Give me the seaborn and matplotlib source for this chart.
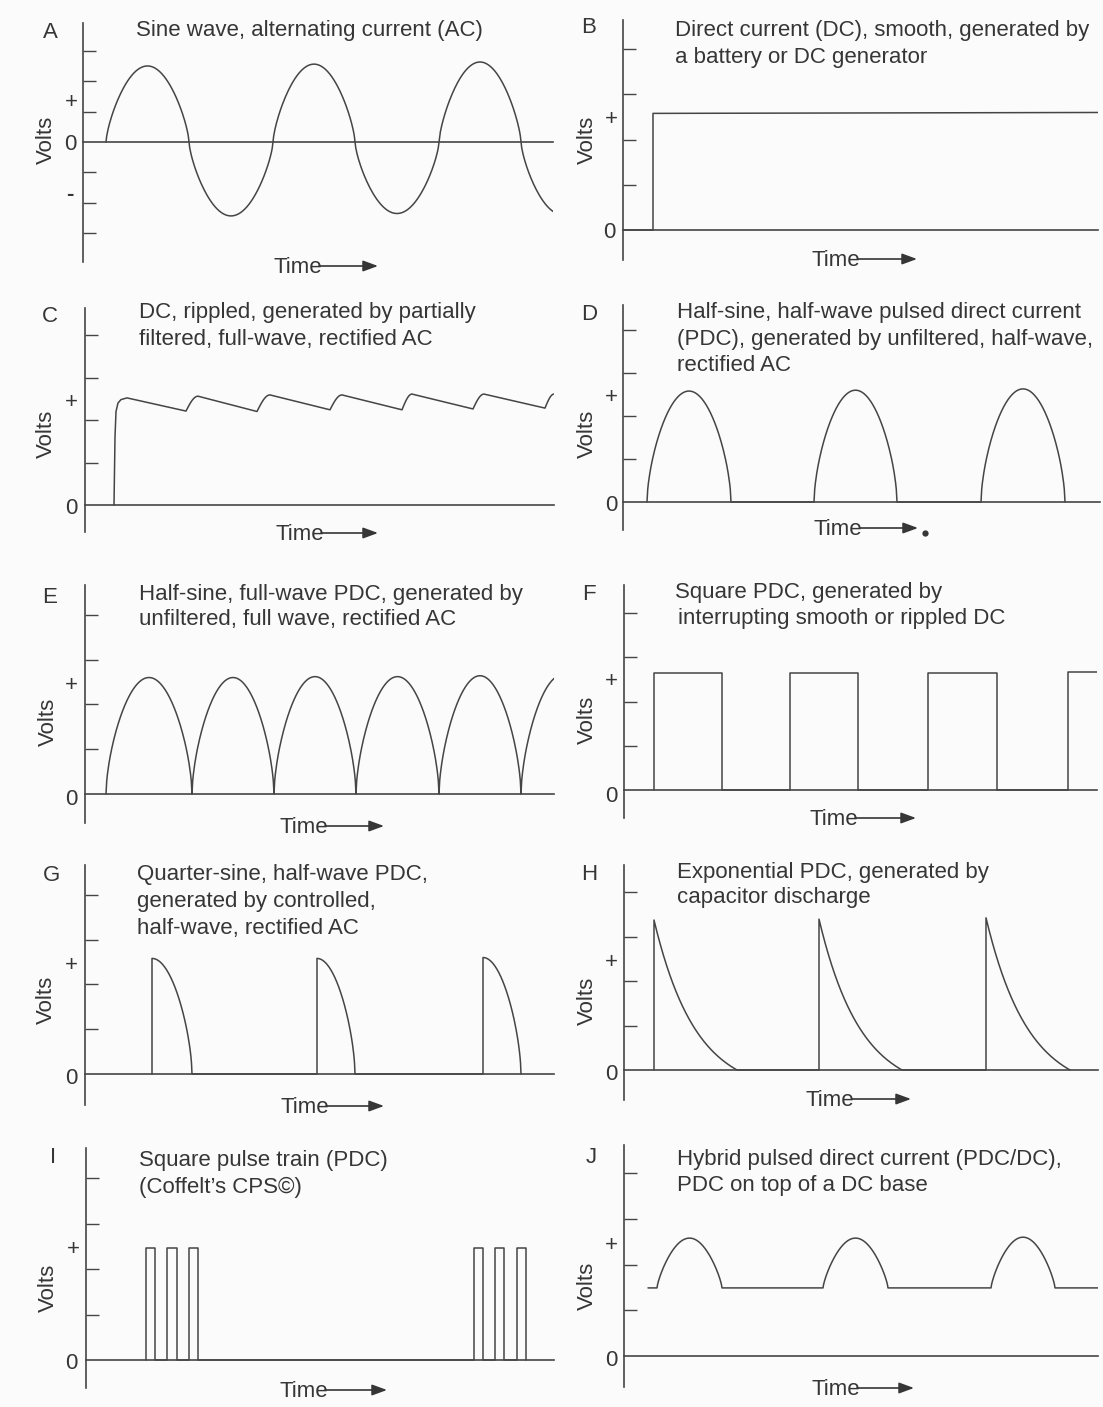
import numpy as np
import pandas as pd
import matplotlib
matplotlib.use("Agg")
import matplotlib.pyplot as plt
from matplotlib.lines import Line2D
import seaborn as sns

sns.set_theme(style="white")
plt.rcParams['font.family'] = ['Liberation Sans', 'DejaVu Sans']

# ---------------------------------------------------------------- data
# time: arbitrary units measured from the Volts axis; volts: tick units
# A  sine wave AC: half-cycle boundaries and their peak values
A_half_edges = [23, 106, 190, 272, 356, 438, 521]
A_half_peaks = [2.51, -2.44, 2.57, -2.36, 2.64, -2.40]
# B  smooth DC
B_step_time = 30
B_end_time = 475
B_levels = [2.58, 2.60]
# C  rippled DC
C_first_rise_t = [29, 30, 31, 33, 36, 42]
C_first_rise_v = [0.0, 1.6, 2.2, 2.4, 2.48, 2.52]
C_trough_t = [101, 172, 245, 317, 388, 460]
C_trough_v = [2.21, 2.20, 2.24, 2.24, 2.26, 2.28]
C_peak_t = [113, 185, 257, 327, 399, 469]
C_peak_v = [2.56, 2.59, 2.59, 2.61, 2.61, 2.61]
# D  half-sine, half-wave PDC
D_start = [24, 191, 358]
D_end = [108, 274, 442]
D_peak = [2.58, 2.60, 2.63]
# E  half-sine, full-wave PDC
E_edges = [21, 107, 189, 271, 354, 436, 519]
E_peak = [2.60, 2.60, 2.62, 2.62, 2.64, 2.66]
# F  square PDC
F_on = [30, 166, 304, 444]
F_off = [98, 234, 373, 473]
F_level = [2.64, 2.64, 2.64, 2.66]
# G  quarter-sine PDC
G_on = [67, 232, 398]
G_off = [107, 270, 436]
G_peak = [2.58, 2.58, 2.60]
# H  exponential PDC
H_on = [30, 195, 362]
H_off = [113, 278, 446]
H_peak = [3.37, 3.39, 3.42]
# I  square pulse train
I_on = [60, 81, 103, 388, 409, 431]
I_off = [69, 91, 112, 397, 418, 440]
I_level = 2.46
# J  hybrid PDC/DC
J_base_start = 24
J_base_end = 474
J_base = 1.49
J_on = [33, 199, 367]
J_off = [98, 264, 431]
J_peak = [2.58, 2.58, 2.60]

TITLES = {
    'A': ["Sine wave, alternating current (AC)"],
    'B': ["Direct current (DC), smooth, generated by", "a battery or DC generator"],
    'C': ["DC, rippled, generated by partially", "filtered, full-wave, rectified AC"],
    'D': ["Half-sine, half-wave pulsed direct current",
          "(PDC), generated by unfiltered, half-wave,", "rectified AC"],
    'E': ["Half-sine, full-wave PDC, generated by", "unfiltered, full wave, rectified AC"],
    'F': ["Square PDC, generated by", "interrupting smooth or rippled DC"],
    'G': ["Quarter-sine, half-wave PDC,", "generated by controlled,", "half-wave, rectified AC"],
    'H': ["Exponential PDC, generated by", "capacitor discharge"],
    'I': ["Square pulse train (PDC)", "(Coffelt\u2019s CPS\u00a9)"],
    'J': ["Hybrid pulsed direct current (PDC/DC),", "PDC on top of a DC base"],
}

# ---------------------------------------------------------------- layout (pixels)
W, H = 1103, 1407
INK = '#363636'
LINE = '#454545'
BG = '#fbfbfb'
FS = 16

LAYOUT = {
    #    axis_x, top, bottom, zero, step, right, ticks
    'A': (83, 23, 262, 142, 30.3, 553, [-3, -2, -1, 1, 2, 3]),
    'B': (623, 20, 260, 230, 45.2, 1098, [1, 2, 3, 4]),
    'C': (85, 308, 532, 505, 42.5, 554, [1, 2, 3, 4]),
    'D': (623, 305, 530, 502, 43.0, 1100, [1, 2, 3, 4]),
    'E': (85, 585, 823, 794, 44.8, 554, [1, 2, 3, 4]),
    'F': (624, 585, 818, 790, 44.2, 1097, [1, 2, 3, 4]),
    'G': (85, 865, 1105, 1074, 44.8, 554, [1, 2, 3, 4]),
    'H': (624, 865, 1100, 1070, 44.5, 1098, [1, 2, 3, 4]),
    'I': (86, 1148, 1388, 1360, 45.5, 554, [1, 2, 3, 4]),
    'J': (624, 1145, 1387, 1356, 45.7, 1098, [1, 2, 3, 4]),
}

# text positions: letter, title (x, [line centers]), volts, plus, zero, minus, time (x, y, arrow end)
TEXTPOS = {
    'A': dict(letter=(50, 30), title=(136, [28]), volts=(46, 140), plus=(71, 100), zero=(70, 142),
              minus=(70, 192), time=(273, 265, 378)),
    'B': dict(letter=(589, 25), title=(675, [28, 55]), volts=(587, 140), plus=(611, 117), zero=(609, 230),
              time=(812, 258, 917)),
    'C': dict(letter=(50, 314), title=(139, [310, 337]), volts=(46, 434), plus=(71, 400), zero=(71, 506),
              time=(275, 532, 378)),
    'D': dict(letter=(589, 312), title=(677, [310, 337, 363]), volts=(587, 434), plus=(611, 395),
              zero=(611, 503), time=(814, 527, 918)),
    'E': dict(letter=(50, 595), title=(139, [592, 617]), volts=(48, 722), plus=(71, 683), zero=(71, 797),
              time=(279, 825, 384)),
    'F': dict(letter=(589, 592), title=(675, [590, 616]), volts=(587, 720), plus=(611, 679), zero=(611, 794),
              time=(809, 817, 916)),
    'G': dict(letter=(52, 873), title=(137, [872, 899, 926]), volts=(46, 1000), plus=(71, 963),
              zero=(71, 1076), time=(280, 1105, 384)),
    'H': dict(letter=(589, 872), title=(677, [870, 895]), volts=(587, 1001), plus=(611, 960),
              zero=(611, 1072), time=(806, 1098, 911)),
    'I': dict(letter=(53, 1155), title=(139, [1158, 1185]), volts=(48, 1288), plus=(73, 1247),
              zero=(71, 1361), time=(279, 1389, 387)),
    'J': dict(letter=(591, 1155), title=(677, [1157, 1183]), volts=(587, 1286), plus=(611, 1243),
              zero=(611, 1358), time=(811, 1387, 914)),
}

fig = plt.figure(figsize=(W / 100, H / 100), dpi=100, facecolor=BG)


def fx(x):
    return x / W


def fy(y):
    return 1 - y / H


def ftext(x, y, s, baseline=True, **kw):
    kw.setdefault('fontsize', FS)
    kw.setdefault('color', INK)
    if baseline:
        fig.text(fx(x), fy(y + 8), s, va='baseline', **kw)
    else:
        fig.text(fx(x), fy(y), s, **kw)


# ---------------------------------------------------------------- waveform shapes
def half_sine(t0, t1, peak, base=0.0, n=120, p=0.65):
    u = np.linspace(0, 1, n)
    shape = np.clip(np.sin(np.pi * u), 0, None) ** p
    return list(t0 + (t1 - t0) * u), list(base + (peak - base) * shape)


def build(key):
    t, v = [], []
    if key == 'A':
        for i, pk in enumerate(A_half_peaks):
            a, b = half_sine(A_half_edges[i], A_half_edges[i + 1], pk, p=0.7)
            t += a; v += b
    elif key == 'B':
        t = [0, B_step_time, B_step_time, B_end_time]
        v = [0, 0, B_levels[0], B_levels[1]]
    elif key == 'C':
        t = list(C_first_rise_t); v = list(C_first_rise_v)
        for tr, trv, pk, pkv in zip(C_trough_t, C_trough_v, C_peak_t, C_peak_v):
            t.append(tr); v.append(trv)
            u = np.linspace(0, 1, 20)[1:]
            t += list(tr + (pk - tr) * u)
            v += list(trv + (pkv - trv) * np.sin(np.pi / 2 * u))
    elif key == 'D':
        for s, e, pk in zip(D_start, D_end, D_peak):
            a, b = half_sine(s, e, pk, p=0.6)
            t += a; v += b
    elif key == 'E':
        for i, pk in enumerate(E_peak):
            a, b = half_sine(E_edges[i], E_edges[i + 1], pk, p=0.6)
            t += a; v += b
    elif key == 'F':
        for i, (s, e, lv) in enumerate(zip(F_on, F_off, F_level)):
            t += [s, s, e]; v += [0, lv, lv]
            if i < len(F_on) - 1:
                t.append(e); v.append(0)
    elif key == 'G':
        for s, e, pk in zip(G_on, G_off, G_peak):
            u = np.linspace(0, 1, 80)
            t += [s] + list(s + (e - s) * u)
            v += [0] + list(pk * np.clip(np.cos(np.pi / 2 * u), 0, None) ** 0.6)
    elif key == 'H':
        k = 2.0
        for s, e, pk in zip(H_on, H_off, H_peak):
            u = np.linspace(0, 1, 80)
            shape = (np.exp(-k * u) - np.exp(-k)) / (1 - np.exp(-k))
            t += [s] + list(s + (e - s) * u)
            v += [0] + list(pk * shape)
    elif key == 'I':
        for s, e in zip(I_on, I_off):
            t += [s, s, e, e]; v += [0, I_level, I_level, 0]
    elif key == 'J':
        t = [J_base_start]; v = [J_base]
        for s, e, pk in zip(J_on, J_off, J_peak):
            a, b = half_sine(s, e, pk, base=J_base, p=0.75)
            t += a; v += b
        t.append(J_base_end); v.append(J_base)
    return pd.DataFrame({'time': t, 'volts': v})


# ---------------------------------------------------------------- draw panels
for key in 'ABCDEFGHIJ':
    axis_x, top, bottom, zero, step, right, ticks = LAYOUT[key]
    ax = fig.add_axes([fx(axis_x), fy(bottom), (right - axis_x) / W, (bottom - top) / H])
    ax.set_facecolor('none')
    df = build(key)
    sns.lineplot(data=df, x='time', y='volts', ax=ax, estimator=None, sort=False,
                 color=LINE, linewidth=1.1)
    ax.set_xlim(0, right - axis_x)
    ax.set_ylim(-(bottom - zero) / step, (zero - top) / step)
    ax.set_xlabel('')
    ax.set_ylabel('')
    ax.set_xticks([])
    ax.set_yticks(ticks)
    ax.tick_params(axis='y', left=True, direction='in', length=9, width=1.0,
                   color=LINE, labelleft=False)
    for side in ('top', 'right'):
        ax.spines[side].set_visible(False)
    ax.spines['left'].set_color(LINE)
    ax.spines['left'].set_linewidth(1.2)
    ax.spines['bottom'].set_position(('data', 0))
    ax.spines['bottom'].set_color(LINE)
    ax.spines['bottom'].set_linewidth(1.2)

    P = TEXTPOS[key]
    ftext(*P['letter'], key, ha='center')
    tx, ys = P['title']
    for i, (line, yy) in enumerate(zip(TITLES[key], ys)):
        xx = tx + (3 if (key == 'F' and i == 1) else 0)
        ftext(xx, yy, line, ha='left')
    vx, vy = P['volts']
    ftext(vx, vy, 'Volts', baseline=False, rotation=90, ha='center', va='center')
    ftext(*P['plus'], '+', ha='center')
    ftext(*P['zero'], '0', ha='center')
    if 'minus' in P:
        ftext(*P['minus'], '-', ha='center', fontweight='bold')
    t_x, t_y, a_end = P['time']
    ftext(t_x, t_y, 'Time', ha='left')
    fig.add_artist(matplotlib.patches.FancyArrowPatch(
        (t_x + 46, fy(t_y + 1) * H), (a_end, fy(t_y + 1) * H),
        transform=None, arrowstyle='-|>,head_length=0.6,head_width=0.22',
        mutation_scale=15, lw=1.2, color=INK, shrinkA=0, shrinkB=0))

# stray dot after the arrow in panel D
fig.add_artist(Line2D([fx(925)], [fy(533)], marker='o', markersize=3.5,
                      color=INK, transform=fig.transFigure))

fig.savefig('out.png', dpi=100, facecolor=BG)
